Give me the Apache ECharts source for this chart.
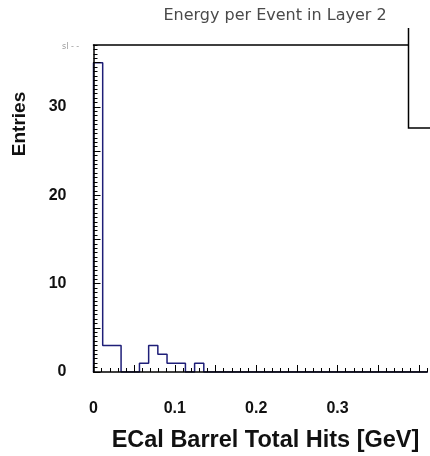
<!DOCTYPE html>
<html><head><meta charset="utf-8">
<script src="https://cdn.jsdelivr.net/npm/echarts@6/dist/echarts.min.js"></script>
<style>html,body{margin:0;padding:0;background:#fff}#c{width:430px;height:456px}</style>
</head><body><div id="c"></div>
<script>
// ---- data ----
const chartTitle = 'Energy per Event in Layer 2';
const xTitle = 'ECal Barrel Total Hits [GeV]';
const yTitle = 'Entries';
const binWidth = 0.0113;
const counts = [35, 3, 3, 0, 0, 1, 3, 2, 1, 1, 0, 1, 0, 0, 0, 0, 0, 0, 0, 0,
                0, 0, 0, 0, 0, 0, 0, 0, 0, 0, 0, 0, 0, 0, 0, 0, 0, 0, 0, 0, 0];
const xTickValues = [0, 0.1, 0.2, 0.3];
const xTickLabels = ['0', '0.1', '0.2', '0.3'];
const yTickValues = [0, 10, 20, 30];
const yTickLabels = ['0', '10', '20', '30'];
const xMin = 0, xMax = 0.41;
const yMin = 0, yMax = 37;

// ---- build step outline ----
const stepData = [[0, 0]];
counts.forEach((c, i) => stepData.push([i * binWidth, c]));
stepData.push([counts.length * binWidth, counts[counts.length - 1]]);

function range(step, max) {
  const out = [];
  for (let k = 0; k * step <= max + 1e-9; k++) out.push(+(k * step).toFixed(4));
  return out;
}
const yMinorTicks = range(0.5, yMax);
const yMajorTicks = range(5, yMax);
const xMinorTicks = range(0.01, xMax);
const xMajorTicks = range(0.05, xMax);

function labelFor(vals, labels) {
  return function (v) {
    for (let i = 0; i < vals.length; i++) if (Math.abs(v - vals[i]) < 1e-6) return labels[i];
    return '';
  };
}

const chart = echarts.init(document.getElementById('c'), null, {renderer: 'canvas'});
const labelFont = {fontFamily: 'Liberation Sans, Arial, sans-serif', fontWeight: 'bold', fontSize: 16, color: '#111'};
const black = {color: '#000', width: 1};
chart.setOption({
  animation: false,
  backgroundColor: '#fff',
  grid: {left: 93.5, top: 45, right: 0, bottom: 84, show: false},
  xAxis: [{
    type: 'value', min: xMin, max: xMax, interval: 0.1, position: 'bottom', z: 5,
    axisLine: {show: true, onZero: false, lineStyle: {color: '#000', width: 1.5}},
    axisTick: {show: true, inside: true, length: 4, customValues: xMinorTicks, lineStyle: black},
    splitLine: {show: false},
    axisLabel: Object.assign({margin: 29, formatter: labelFor(xTickValues, xTickLabels)}, labelFont)
  }, {
    type: 'value', min: xMin, max: xMax, position: 'bottom', offset: 0, z: 5,
    axisLine: {show: false, onZero: false},
    axisTick: {show: true, inside: true, length: 7, customValues: xMajorTicks, lineStyle: black},
    splitLine: {show: false},
    axisLabel: {show: false}
  }, {
    type: 'value', min: xMin, max: xMax, position: 'top', offset: 0, z: 5,
    axisLine: {show: true, onZero: false, lineStyle: {color: '#000', width: 1.5}},
    axisTick: {show: false},
    splitLine: {show: false},
    axisLabel: {show: false}
  }],
  yAxis: [{
    type: 'value', min: yMin, max: yMax, interval: 10, position: 'left', z: 5,
    axisLine: {show: true, onZero: false, lineStyle: {color: '#000', width: 1.5}},
    axisTick: {show: true, inside: true, length: 4, customValues: yMinorTicks, lineStyle: black},
    splitLine: {show: false},
    axisLabel: Object.assign({margin: 27, formatter: labelFor(yTickValues, yTickLabels)}, labelFont)
  }, {
    type: 'value', min: yMin, max: yMax, position: 'left', offset: 0, z: 5,
    axisLine: {show: false, onZero: false},
    axisTick: {show: true, inside: true, length: 7, customValues: yMajorTicks, lineStyle: black},
    splitLine: {show: false},
    axisLabel: {show: false}
  }],
  series: [{
    type: 'line', step: 'end', data: stepData, symbol: 'none', clip: true,
    xAxisIndex: 0, yAxisIndex: 0,
    lineStyle: {color: '#1e1e78', width: 1.5}, z: 2
  }],
  graphic: [
    {type: 'rect', z: 100, shape: {x: 408.5, y: 20, width: 40, height: 108}, style: {fill: '#fff'}},
    {type: 'polyline', z: 101, shape: {points: [[408.5, 28], [408.5, 128], [440, 128]]}, style: {stroke: '#000', lineWidth: 1.5, fill: null}},
    {type: 'text', z: 101, x: 275, y: 16, style: {text: chartTitle, fill: '#4a4a4a', font: '16px "DejaVu Sans", sans-serif', textAlign: 'center', textVerticalAlign: 'middle'}},
    {type: 'text', z: 101, x: 265.5, y: 441, style: {text: xTitle, fill: '#111', font: 'bold 23.5px "Liberation Sans", Arial, sans-serif', textAlign: 'center', textVerticalAlign: 'middle'}},
    {type: 'text', z: 101, x: 20, y: 124, rotation: Math.PI / 2, style: {text: yTitle, fill: '#111', font: 'bold 19px "Liberation Sans", Arial, sans-serif', textAlign: 'center', textVerticalAlign: 'middle'}},
    {type: 'text', z: 101, x: 62, y: 47, style: {text: 'sl - -', fill: '#999', font: '8px "DejaVu Sans", sans-serif', textVerticalAlign: 'middle'}}
  ]
});
</script></body></html>
